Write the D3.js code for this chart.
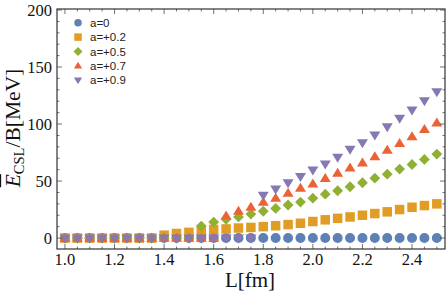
<!DOCTYPE html>
<html>
<head>
<meta charset="utf-8">
<script src="https://cdn.jsdelivr.net/npm/d3@7"></script>
<style>
  body { margin: 0; background: #fff; }
  svg { display: block; }
</style>
</head>
<body>
<script>
// chart data
var lengths = d3.range(31).map(function(i){ return +(1 + i * 0.05).toFixed(2); });
var seriesNames = ["a=0", "a=+0.2", "a=+0.5", "a=+0.7", "a=+0.9"];
var a00 = [0,0,0,0,0,0,0,0,0,0,0,0,0,0,0,0,0,0,0,0,0,0,0,0,0,0,0,0,0,0,0];
var a02 = [0,0,0,0,0,0,0,0,2.5,4,5,6.5,7.5,8,8.8,9.3,10,10.8,11.8,13,14.5,16,17.3,18.5,20,21.5,23,25,27,28.5,30];
var a05 = [0,0,0,0,0,0,0,0,0,0,0,10.5,14,16.5,18.5,21,23.5,26,29,31.6,35,38.5,41.5,45,48.5,52.5,56,60.5,64.5,69,73.7];
var a07 = [0,0,0,0,0,0,0,0,0,0,0,0,0,19.5,23.5,27,31.5,35,39.3,43.8,47.5,52.4,57,61.5,66,71.3,77,83,89,95.4,101];
var a09 = [0,0,0,0,0,0,0,0,0,0,0,0,0,0,0,0,37.5,43,48.5,53.8,59.6,64.9,70.8,77.8,83.6,90.4,97.6,105,112.3,120.4,128.3];
var xTicks = [1.0, 1.2, 1.4, 1.6, 1.8, 2.0, 2.2, 2.4];
var yTicks = [0, 50, 100, 150, 200];

var colors = ["#5e81b5", "#e19c24", "#8fb032", "#eb6235", "#8778b3"];
var shapes = ["circle", "square", "diamond", "up", "down"];
var allSeries = [a00, a02, a05, a07, a09];

var width = 447, height = 298;
var margin = {left: 57, right: 2, top: 9, bottom: 49};

var svg = d3.select("body").append("svg")
    .attr("width", width)
    .attr("height", height);

var x = d3.scaleLinear()
    .domain([0.968, 2.533])
    .range([margin.left, width - margin.right]);
var y = d3.scaleLinear()
    .domain([-9.6, 200.9])
    .range([height - margin.bottom, margin.top]);

// marker path generator
function markerPath(shape, s){
    if (shape == "circle") return d3.symbol(d3.symbolCircle, s * s * 0.785)();
    if (shape == "square") return "M" + (-s/2) + "," + (-s/2) + "h" + s + "v" + s + "h" + (-s) + "Z";
    if (shape == "diamond") { var r = s * 0.6; return "M0," + (-r) + "L" + r + ",0L0," + r + "L" + (-r) + ",0Z"; }
    var h = s * 0.9, w = s * 0.55;
    if (shape == "up") return "M0," + (-h*0.6) + "L" + w + "," + (h*0.4) + "L" + (-w) + "," + (h*0.4) + "Z";
    return "M0," + (h*0.6) + "L" + w + "," + (-h*0.4) + "L" + (-w) + "," + (-h*0.4) + "Z";
}
var markerSize = [10, 9.5, 9, 10, 10];

// points
allSeries.forEach(function(vals, k){
    svg.append("g")
        .selectAll("path")
        .data(vals)
        .enter()
        .append("path")
        .attr("transform", function(d, i){ return "translate(" + x(lengths[i]) + "," + y(d) + ")"; })
        .attr("d", markerPath(shapes[k], markerSize[k]))
        .attr("fill", colors[k]);
});

// frame and ticks
var frameColor = "#333";
var x0 = x.range()[0], x1 = x.range()[1], y0 = y.range()[0], y1 = y.range()[1];
svg.append("rect")
    .attr("x", x0).attr("y", y1)
    .attr("width", x1 - x0).attr("height", y0 - y1)
    .attr("fill", "none")
    .attr("stroke", frameColor)
    .attr("stroke-width", 1.2);

var xMinor = d3.range(1.0, 2.5001, 0.05);
var yMinor = d3.range(0, 200.01, 10);
var ticks = svg.append("g").attr("stroke", frameColor).attr("stroke-width", 0.7);
xMinor.forEach(function(v){
    var major = Math.abs(v * 5 - Math.round(v * 5)) < 1e-6;
    var len = major ? 5 : 2.5;
    ticks.append("line").attr("x1", x(v)).attr("x2", x(v)).attr("y1", y0).attr("y2", y0 - len);
    ticks.append("line").attr("x1", x(v)).attr("x2", x(v)).attr("y1", y1).attr("y2", y1 + len);
});
yMinor.forEach(function(v){
    var major = v % 50 == 0;
    var len = major ? 5 : 2.5;
    ticks.append("line").attr("x1", x0).attr("x2", x0 + len).attr("y1", y(v)).attr("y2", y(v));
    ticks.append("line").attr("x1", x1).attr("x2", x1 - len).attr("y1", y(v)).attr("y2", y(v));
});

// tick labels
var serif = "'Liberation Serif', 'Times New Roman', serif";
svg.append("g").selectAll("text")
    .data(xTicks).enter().append("text")
    .attr("x", function(d){ return x(d); })
    .attr("y", y0 + 16)
    .attr("text-anchor", "middle")
    .attr("font-family", serif)
    .attr("font-size", "16.5px")
    .attr("fill", "#111")
    .text(function(d){ return d.toFixed(1); });
svg.append("g").selectAll("text")
    .data(yTicks).enter().append("text")
    .attr("x", x0 - 5)
    .attr("y", function(d){ return y(d) + 5.5; })
    .attr("text-anchor", "end")
    .attr("font-family", serif)
    .attr("font-size", "16.5px")
    .attr("fill", "#111")
    .text(function(d){ return d; });

// axis titles
svg.append("text")
    .attr("x", 250).attr("y", 287)
    .attr("text-anchor", "middle")
    .attr("font-family", serif)
    .attr("font-size", "21px")
    .attr("fill", "#111")
    .text("L[fm]");

var yt = svg.append("text")
    .attr("transform", "translate(20,128) rotate(-90)")
    .attr("text-anchor", "middle")
    .attr("font-family", serif)
    .attr("font-size", "21.5px")
    .attr("fill", "#111");
yt.append("tspan").attr("font-style", "italic").attr("text-decoration", "overline").text("E");
yt.append("tspan").attr("font-size", "14.5px").attr("dy", 4).text("CSL");
yt.append("tspan").attr("dy", -4).text("/B[MeV]");

// legend
var legend = svg.append("g");
seriesNames.forEach(function(name, k){
    var ly = 22.7 + k * 14.4;
    legend.append("path")
        .attr("transform", "translate(78," + ly + ")")
        .attr("d", markerPath(shapes[k], 7.5))
        .attr("fill", colors[k]);
    legend.append("text")
        .attr("x", 90).attr("y", ly + 4)
        .attr("font-family", "'Liberation Sans', Arial, sans-serif")
        .attr("font-size", "11.5px")
        .attr("fill", "#222")
        .text(name);
});
</script>
</body>
</html>
